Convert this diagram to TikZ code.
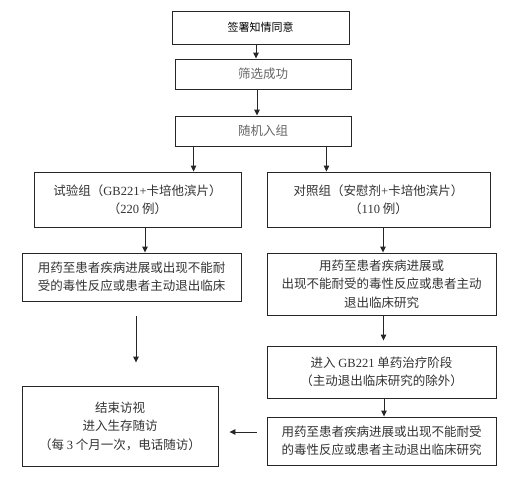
\documentclass[tikz,border=0pt]{standalone}
\usepackage{fontspec}
\setmainfont{Liberation Serif}
\newfontfamily\cjk{Noto Sans CJK SC}
\usepackage{tikz}
\usetikzlibrary{arrows.meta}
\newcommand{\tnr}[1]{{\rmfamily #1}}
\tikzset{
    box_style/.style={
        rectangle,            % 矩形框
        draw=black!85,        % 边框颜色
        line width=0.9pt,     % 边框粗细
        fill=white,
        align=center,         % 多行文字居中
        inner sep=2pt,
        text=black!80,
        font=\cjk\fontsize{12.5}{18.5}\selectfont
    },
    arrow_style/.style={
        -{Triangle[length=6pt,width=5.5pt]}, % 实心三角箭头
        line width=0.9pt,
        draw=black!85
    }
}

\begin{document}
\begin{tikzpicture}[x=1pt, y=-1pt]
    \useasboundingbox (0,0) rectangle (508,477);
    % 1. 上部主干节点
    \node[box_style, minimum width=177pt, minimum height=33pt, text=black,
          font=\cjk\fontsize{11}{13}\selectfont] (consent) at (260.5,27.5) {签署知情同意};
    \node[box_style, minimum width=176pt, minimum height=30pt, text=black!60] (screen) at (263,74) {筛选成功};
    \node[box_style, minimum width=176pt, minimum height=30pt, text=black!60] (random) at (263,131) {随机入组};

    % 2. 两个分组
    \node[box_style, minimum width=207pt, minimum height=55pt] (trial) at (137.5,199.5)
        {试验组（\tnr{GB221+}卡培他滨片）\\（\tnr{220} 例）};
    \node[box_style, minimum width=223pt, minimum height=55pt] (ctrl) at (378.5,199.5)
        {对照组（安慰剂\tnr{+}卡培他滨片）\\（\tnr{110} 例）};

    % 3. 用药阶段
    \node[box_style, minimum width=219pt, minimum height=48pt] (dosingL) at (131.5,277)
        {用药至患者疾病进展或出现不能耐\\受的毒性反应或患者主动退出临床};
    \node[box_style, minimum width=229pt, minimum height=62pt] (dosingR) at (381.5,284)
        {用药至患者疾病进展或\\出现不能耐受的毒性反应或患者主动\\退出临床研究};
    \node[box_style, minimum width=229pt, minimum height=52pt] (mono) at (381.5,372)
        {进入 \tnr{GB221} 单药治疗阶段\\（主动退出临床研究的除外）};
    \node[box_style, minimum width=229pt, minimum height=48pt] (stopR) at (381.5,441)
        {用药至患者疾病进展或出现不能耐受\\的毒性反应或患者主动退出临床研究};
    \node[box_style, minimum width=196pt, minimum height=80pt] (followup) at (120,426)
        {结束访视\\进入生存随访\\（每 \tnr{3} 个月一次，电话随访）};

    % 4. 连线
    \coordinate (a1) at ([xshift=-4.5pt]consent.south);
    \draw[arrow_style] (a1) -- (a1 |- screen.north);
    \coordinate (a2) at ([xshift=-6pt]screen.south);
    \draw[arrow_style] (a2) -- (a2 |- random.north);
    \coordinate (forkL) at ([xshift=19pt]random.south west);
    \draw[arrow_style] (forkL) -- (forkL |- trial.north);
    \coordinate (forkR) at ([xshift=-25pt]random.south east);
    \draw[arrow_style] (forkR) -- (forkR |- ctrl.north);
    \coordinate (a3) at ([xshift=7.5pt]trial.south);
    \draw[arrow_style] (a3) -- (a3 |- dosingL.north);
    \coordinate (a4) at ([xshift=4.5pt]ctrl.south);
    \draw[arrow_style] (a4) -- (a4 |- dosingR.north);
    \coordinate (a5) at ([xshift=2pt]dosingR.south);
    \draw[arrow_style, shorten >=5pt] (a5) -- (a5 |- mono.north);
    \coordinate (a6) at ([xshift=2.5pt]mono.south);
    \draw[arrow_style] (a6) -- (a6 |- stopR.north);

    % 左侧和底部的悬空箭头
    \coordinate (endL_top) at ([xshift=4.5pt,yshift=-15pt]dosingL.south);
    \coordinate (endL_bot) at ([xshift=16pt,yshift=23pt]followup.north);
    \draw[arrow_style] (endL_top) -- (endL_bot);
    \coordinate (back_start) at ([xshift=-10pt,yshift=9pt]stopR.west);
    \draw[arrow_style, shorten >=11pt] (back_start) -- (back_start -| followup.east);
\end{tikzpicture}
\end{document}
